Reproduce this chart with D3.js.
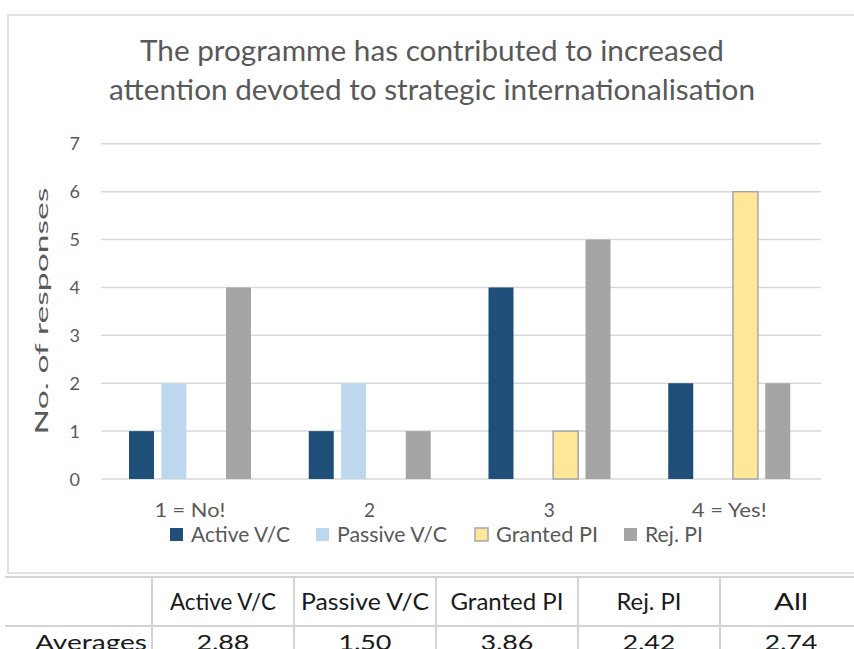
<!DOCTYPE html>
<html>
<head>
<meta charset="utf-8">
<script src="https://cdn.jsdelivr.net/npm/d3@7"></script>
<style>
  body { margin: 0; background: #fff; }
  svg text { font-family: Lato, "Open Sans", sans-serif; }
</style>
</head>
<body>
<div id="container"></div>
<script>
// data
let titleLines = ["The programme has contributed to increased", "attention devoted to strategic internationalisation"];
let categories = ["1 = No!", "2", "3", "4 = Yes!"];
let seriesNames = ["Active V/C", "Passive V/C", "Granted PI", "Rej. PI"];
let activeVC = [1, 1, 4, 2];
let passiveVC = [2, 2, 0, 0];
let grantedPI = [0, 0, 1, 6];
let rejPI = [4, 1, 5, 2];
let yTicks = [0, 1, 2, 3, 4, 5, 6, 7];
let tableHeaders = ["Active V/C", "Passive V/C", "Granted PI", "Rej. PI", "All"];
let rowLabel = "Averages";
let averages = ["2,88", "1,50", "3,86", "2,42", "2,74"];

let w = 854;
let h = 649;
let colors = ["#1F4E79", "#BDD7EE", "#FFE699", "#A5A5A5"];
let textGrey = "#595959";

let viz = d3.select("#container")
  .append("svg")
    .attr("width", w)
    .attr("height", h)
    .style("background-color", "white")
;

// squeeze a text to a measured width (the original font is narrow)
function fit(sel, width) {
  sel.attr("textLength", width).attr("lengthAdjust", "spacingAndGlyphs");
}

// chart frame
viz.append("path")
  .attr("d", "M854,15 H8 V573 H854")
  .attr("fill", "none")
  .attr("stroke", "#D9D9D9")
  .attr("stroke-width", 1.5)
;

// title
let titleWidths = [584, 646];
viz.selectAll(".title").data(titleLines).enter()
  .append("text")
    .classed("title", true)
    .attr("x", 432)
    .attr("y", (d, i) => 61 + i * 39)
    .attr("text-anchor", "middle")
    .attr("font-size", 28)
    .attr("fill", textGrey)
    .text(d => d)
    .each(function(d, i) { fit(d3.select(this), titleWidths[i]); })
;

// scales
let xScale = d3.scaleBand().domain(categories).range([100, 819]);
let xInner = d3.scaleBand().domain(seriesNames).range([29, 151]).paddingInner(0.227);
let yScale = d3.scaleLinear().domain([0, 7]).range([479, 143.8]);

// gridlines
viz.selectAll(".grid").data(yTicks).enter()
  .append("line")
    .classed("grid", true)
    .attr("x1", 101)
    .attr("x2", 821)
    .attr("y1", d => yScale(d))
    .attr("y2", d => yScale(d))
    .attr("stroke", "#D9D9D9")
    .attr("stroke-width", 1.5)
;

// y tick labels
viz.selectAll(".ytick").data(yTicks).enter()
  .append("text")
    .classed("ytick", true)
    .attr("x", 80)
    .attr("y", d => yScale(d) + 6.5)
    .attr("text-anchor", "end")
    .attr("font-size", 18)
    .attr("fill", textGrey)
    .text(d => d)
;

// y axis title, stretched along its length like the original
let yTitle = viz.append("text")
  .attr("text-anchor", "middle")
  .attr("font-size", 18)
  .attr("fill", textGrey)
  .text("No. of responses")
;
let natural = yTitle.node().getComputedTextLength();
yTitle.attr("transform", "translate(48,311) rotate(-90) scale(" + (247 / natural) + ",1)");

// bars
let seriesValues = [activeVC, passiveVC, grantedPI, rejPI];
let barData = [];
categories.forEach(function(c, i) {
  seriesNames.forEach(function(s, j) {
    barData.push({ category: c, series: s, value: seriesValues[j][i], color: colors[j] });
  });
});

viz.selectAll(".bar").data(barData.filter(d => d.value > 0)).enter()
  .append("rect")
    .classed("bar", true)
    .attr("x", d => xScale(d.category) + xInner(d.series))
    .attr("y", d => yScale(d.value))
    .attr("width", xInner.bandwidth())
    .attr("height", d => yScale(0) - yScale(d.value))
    .style("fill", d => d.color)
    .attr("stroke", d => d.series == "Granted PI" ? "#A6A6A6" : "none")
    .attr("stroke-width", 1.5)
;

// category labels
let catWidths = { "1 = No!": 71, "4 = Yes!": 75 };
viz.selectAll(".cat").data(categories).enter()
  .append("text")
    .classed("cat", true)
    .attr("x", d => xScale(d) + xScale.bandwidth() / 2)
    .attr("y", 517)
    .attr("text-anchor", "middle")
    .attr("font-size", 19)
    .attr("fill", textGrey)
    .text(d => d)
    .each(function(d) { if (catWidths[d]) fit(d3.select(this), catWidths[d]); })
;

// legend
let legendX = [170, 316, 475, 624];
let legendTextW = [99, 110, 102, 58];
let legendGroups = viz.selectAll(".legendGroup").data(seriesNames).enter()
  .append("g")
    .classed("legendGroup", true)
    .attr("transform", (d, i) => "translate(" + legendX[i] + ", 528)")
;
legendGroups.append("rect")
  .attr("width", 13)
  .attr("height", 13)
  .style("fill", (d, i) => colors[i])
  .attr("stroke", d => d == "Granted PI" ? "#A6A6A6" : "none")
  .attr("stroke-width", 1.5)
;
legendGroups.append("text")
  .attr("x", 21)
  .attr("y", 13.5)
  .attr("font-size", 21)
  .attr("fill", textGrey)
  .text(d => d)
  .each(function(d, i) { fit(d3.select(this), legendTextW[i]); })
;

// averages table below the chart
let tableLine = "#D4D4D4";
let colScale = d3.scaleBand().domain(tableHeaders).range([152, 862]);

viz.selectAll(".hline").data([577, 626]).enter()
  .append("line")
    .classed("hline", true)
    .attr("x1", 5)
    .attr("x2", w)
    .attr("y1", d => d)
    .attr("y2", d => d)
    .attr("stroke", tableLine)
    .attr("stroke-width", 2)
;
viz.selectAll(".vline").data(tableHeaders).enter()
  .append("line")
    .classed("vline", true)
    .attr("x1", d => colScale(d))
    .attr("x2", d => colScale(d))
    .attr("y1", 577)
    .attr("y2", h)
    .attr("stroke", tableLine)
    .attr("stroke-width", 2)
;

let headerW = [106, 128, 113, 65, 34];
viz.selectAll(".thead").data(tableHeaders).enter()
  .append("text")
    .classed("thead", true)
    .attr("x", d => colScale(d) + colScale.bandwidth() / 2)
    .attr("y", 610)
    .attr("text-anchor", "middle")
    .attr("font-size", 23)
    .attr("fill", "#1a1a1a")
    .text(d => d)
    .each(function(d, i) { fit(d3.select(this), headerW[i]); })
;

// the last row runs to the bottom edge in the original too
viz.append("text")
  .attr("x", 147)
  .attr("y", 650)
  .attr("text-anchor", "end")
  .attr("font-size", 21)
  .attr("fill", "#1a1a1a")
  .text(rowLabel)
  .call(fit, 112)
;

viz.selectAll(".avg").data(averages).enter()
  .append("text")
    .classed("avg", true)
    .attr("x", (d, i) => colScale(tableHeaders[i]) + colScale.bandwidth() / 2)
    .attr("y", 650)
    .attr("text-anchor", "middle")
    .attr("font-size", 21)
    .attr("fill", "#1a1a1a")
    .text(d => d)
    .call(fit, 53)
;
</script>
</body>
</html>
